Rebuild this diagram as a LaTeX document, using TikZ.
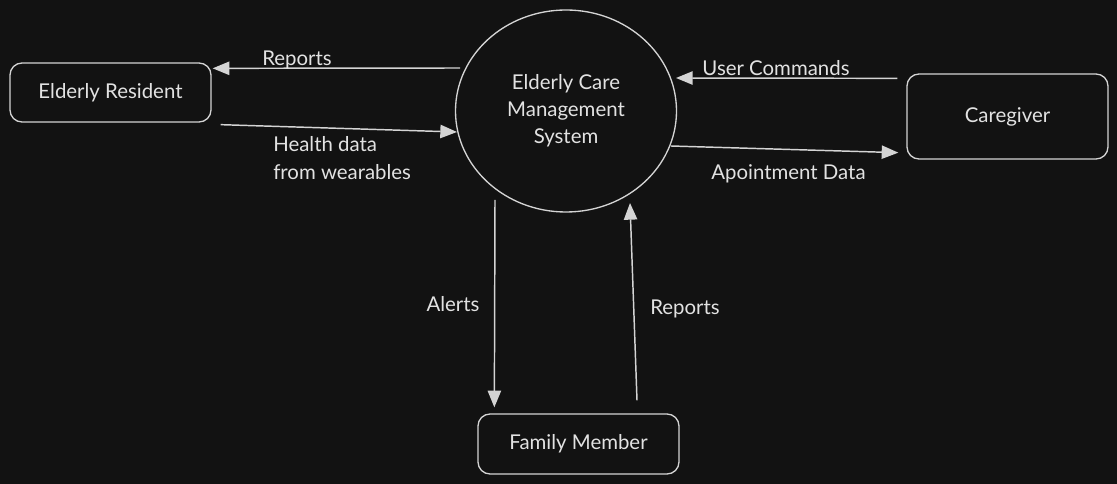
\documentclass[tikz,border=0pt]{standalone}
\usepackage{fontspec}
\setmainfont{Lato}
\usetikzlibrary{shapes.geometric,arrows.meta,calc}
\definecolor{bg}{HTML}{121212}
\definecolor{ink}{HTML}{D4D4D4}
\definecolor{txt}{HTML}{E2E2E2}
\begin{document}
\begin{tikzpicture}[x=0.75pt,y=-0.75pt,
  every node/.style={text=txt,font=\fontsize{15.3}{20.4}\selectfont},
  entity/.style={draw=ink,line width=1pt,rounded corners=9pt,minimum width=150.75pt,inner sep=0pt},
  proc/.style={draw=ink,line width=1pt,ellipse,minimum width=165.75pt,minimum height=151.5pt,inner sep=0pt,align=center},
  flow/.style={draw=ink,line width=1.1pt,-{Triangle[length=12.5pt,width=10pt]}},
  lbl/.style={inner sep=0pt,yshift=-1.2pt}]
\fill[bg] (0,0) rectangle (1117,484);
\useasboundingbox (0,0) rectangle (1117,484);
\node[entity,minimum height=44.25pt] (er) at (110.5,92.5) {\raisebox{-2pt}{Elderly Resident}};
\node[proc] (sys) at (566,111) {\raisebox{-2.2pt}{\begin{tabular}{@{}c@{}}Elderly Care\\Management\\System\end{tabular}}};
\node[entity,minimum height=63.75pt] (cg) at (1007.5,116.5) {\raisebox{-2pt}{Caregiver}};
\node[entity,minimum height=45pt] (fm) at (578.5,444) {\raisebox{-2pt}{Family Member}};
\draw[flow] ($(sys.center)+(-106,-43)$) -- ($(er.north east)+(1,6)$);
\draw[flow] ($(er.south east)+(9,2)$) -- ($(sys.center)+(-109,21)$);
\draw[flow] ($(cg.north west)+(-9,5)$) -- ($(sys.center)+(110,-33)$);
\draw[flow] ($(sys.center)+(105,35)$) -- ($(cg.south west)+(-8,-7)$);
\draw[flow] ($(sys.center)+(-71,89)$) -- ($(fm.north west)+(17,-6)$);
\draw[flow] ($(fm.north)+(58.5,-13)$) -- ($(sys.center)+(64,92)$);
\node[lbl] (l1) at (297,58) {Reports};
\node[lbl,align=left,anchor=west] (l2) at (273,156.5) {Health data\\from wearables};
\node[lbl] (l3) at (776,66) {User Commands};
\node[lbl] (l4) at (788.5,172) {Apointment Data};
\node[lbl] (l5) at (453,302) {Alerts};
\node[lbl] (l6) at (685,307) {Reports};
\end{tikzpicture}
\end{document}
